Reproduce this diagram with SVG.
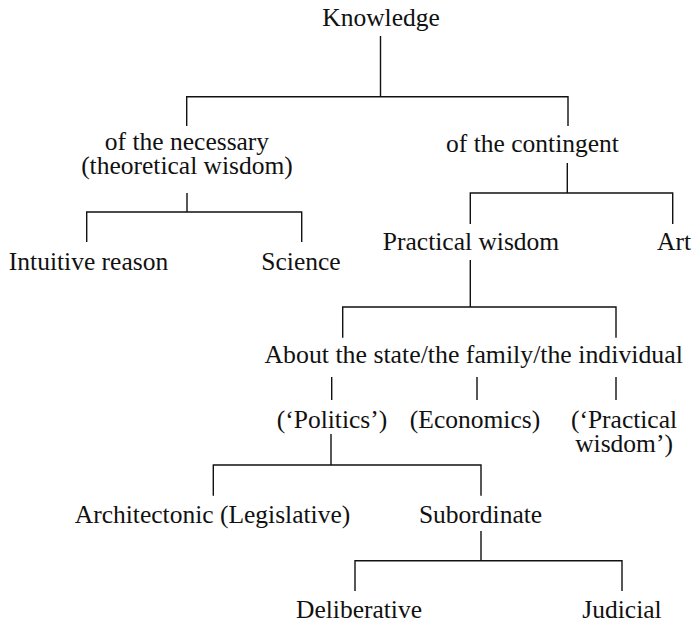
<svg xmlns="http://www.w3.org/2000/svg" width="694" height="623" viewBox="0 0 694 623">
<style>
text{font-family:"Liberation Serif","Times New Roman",serif;font-size:25.5px;fill:#111;text-anchor:middle}
.c{stroke:#111;stroke-width:1.4;fill:none}
</style>
<rect width="694" height="623" fill="#fff"/>
<g id="connectors" class="c">
<path d="M380.5 36V96.7M186.7 126V96.7H568V126"/>
<path d="M187 193V212M86.7 242V212H301.7V242"/>
<path d="M567.3 163V193M470.3 224V193H672.7V224"/>
<path d="M470.3 260V307M342.7 337.7V307H616V337.7"/>
<path d="M331.7 377V400M477 377V400M616 377V400"/>
<path d="M331 434V465M213.3 495.7V465H481V495.7"/>
<path d="M481 531V560.7M355 591V560.7H622V591"/>
</g>
<g id="n-knowledge"><text x="381" y="26">Knowledge</text></g>
<g id="n-necessary"><text x="187" y="150">of the necessary<tspan x="187" y="174">(theoretical wisdom)</tspan></text></g>
<g id="n-contingent"><text x="532.5" y="152">of the contingent</text></g>
<g id="n-intuitive"><text x="88.5" y="270">Intuitive reason</text></g>
<g id="n-science"><text x="301" y="270">Science</text></g>
<g id="n-practical"><text x="471" y="250">Practical wisdom</text></g>
<g id="n-art"><text x="674" y="250">Art</text></g>
<g id="n-about"><text x="473.7" y="363" style="font-size:25.8px">About the state/the family/the individual</text></g>
<g id="n-politics"><text x="332" y="428">(‘Politics’)</text></g>
<g id="n-economics"><text x="475" y="428">(Economics)</text></g>
<g id="n-pw"><text x="624" y="428">(‘Practical<tspan x="624" y="452">wisdom’)</tspan></text></g>
<g id="n-architectonic"><text x="212.5" y="523">Architectonic (Legislative)</text></g>
<g id="n-subordinate"><text x="480.5" y="523">Subordinate</text></g>
<g id="n-deliberative"><text x="359" y="618">Deliberative</text></g>
<g id="n-judicial"><text x="622" y="618">Judicial</text></g>
</svg>
